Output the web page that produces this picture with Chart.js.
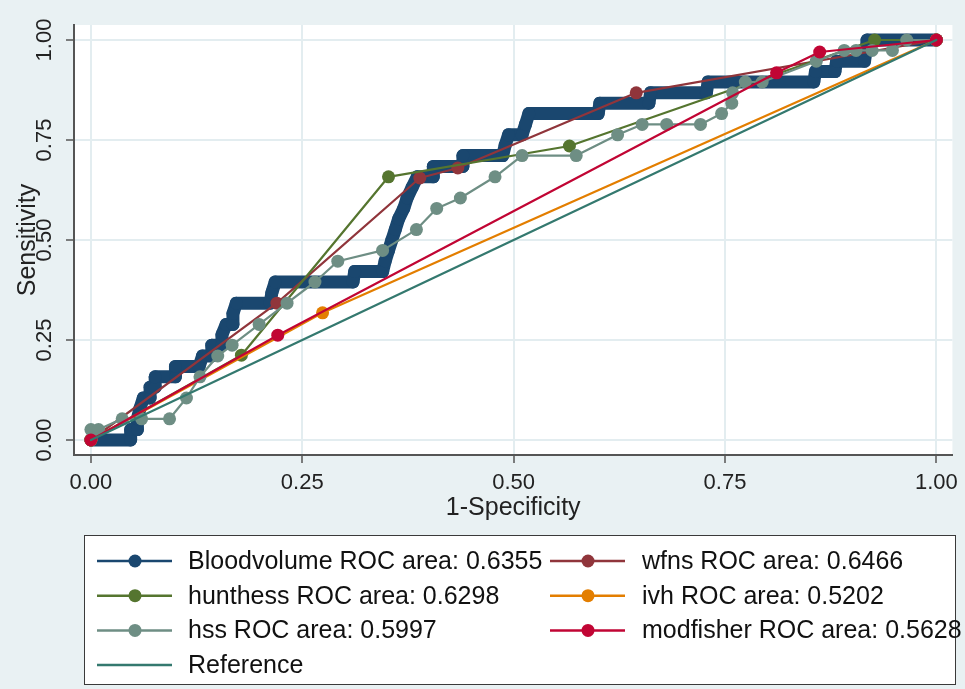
<!DOCTYPE html>
<html>
<head>
<meta charset="utf-8">
<script src="https://cdn.jsdelivr.net/npm/chart.js@4.4.1/dist/chart.umd.min.js"></script>
<style>
  html, body { margin: 0; padding: 0; background: #e9f1f3; }
  canvas { display: block; }
</style>
</head>
<body>
<canvas id="rocChart" width="965" height="689"></canvas>
<script>
// tick positions on both axes
const tickValues = [0, 0.25, 0.5, 0.75, 1];

const seriesNames = [
  "Bloodvolume ROC area: 0.6355",
  "wfns ROC area: 0.6466",
  "hunthess ROC area: 0.6298",
  "ivh ROC area: 0.5202",
  "hss ROC area: 0.5997",
  "modfisher ROC area: 0.5628",
  "Reference"
];
const seriesColors = ["#1a476f", "#90353b", "#55752f", "#e37e00", "#6e8e84", "#c10534", "#34796f"];

// 1-specificity / sensitivity pairs
const bloodX = [0, 0.047, 0.047, 0.055, 0.055, 0.058, 0.062, 0.07, 0.07, 0.076, 0.076, 0.1, 0.1, 0.128, 0.132, 0.143, 0.143, 0.155, 0.155, 0.16, 0.168, 0.168, 0.172, 0.212, 0.214, 0.218, 0.31, 0.312, 0.345, 0.348, 0.352, 0.356, 0.36, 0.364, 0.37, 0.374, 0.38, 0.386, 0.405, 0.405, 0.44, 0.44, 0.487, 0.49, 0.494, 0.51, 0.514, 0.518, 0.6, 0.602, 0.66, 0.662, 0.728, 0.73, 0.855, 0.857, 0.88, 0.882, 0.915, 0.917, 0.918, 1];
const bloodY = [0, 0, 0.026, 0.026, 0.053, 0.079, 0.105, 0.105, 0.132, 0.132, 0.158, 0.158, 0.184, 0.184, 0.21, 0.21, 0.237, 0.237, 0.263, 0.289, 0.289, 0.316, 0.342, 0.342, 0.368, 0.395, 0.395, 0.421, 0.421, 0.447, 0.474, 0.5, 0.526, 0.553, 0.579, 0.605, 0.632, 0.658, 0.658, 0.684, 0.684, 0.711, 0.711, 0.737, 0.763, 0.763, 0.789, 0.816, 0.816, 0.842, 0.842, 0.868, 0.868, 0.895, 0.895, 0.921, 0.921, 0.947, 0.947, 0.974, 1, 1];

const wfnsX = [0, 0.22, 0.389, 0.434, 0.645, 1];
const wfnsY = [0, 0.342, 0.655, 0.68, 0.868, 1];

const huntX = [0, 0.178, 0.352, 0.566, 0.927, 1];
const huntY = [0, 0.212, 0.658, 0.735, 1, 1];

const ivhX = [0, 0.274, 1];
const ivhY = [0, 0.318, 1];

const hssX = [0, 0, 0.009, 0.037, 0.06, 0.093, 0.113, 0.129, 0.15, 0.167, 0.199, 0.232, 0.265, 0.292, 0.345, 0.385, 0.409, 0.437, 0.478, 0.51, 0.574, 0.623, 0.652, 0.681, 0.721, 0.746, 0.758, 0.759, 0.774, 0.794, 0.858, 0.891, 0.905, 0.924, 0.948, 0.965, 1];
const hssY = [0, 0.026, 0.026, 0.053, 0.053, 0.053, 0.105, 0.158, 0.21, 0.237, 0.289, 0.342, 0.395, 0.447, 0.474, 0.526, 0.579, 0.605, 0.658, 0.711, 0.711, 0.763, 0.789, 0.789, 0.789, 0.816, 0.842, 0.868, 0.895, 0.895, 0.947, 0.974, 0.974, 0.974, 0.974, 1, 1];

const modX = [0, 0.221, 0.811, 0.862, 1];
const modY = [0, 0.262, 0.918, 0.97, 1];

const refX = [0, 1];
const refY = [0, 1];

const pairs = (xs, ys) => xs.map((x, i) => ({ x: x, y: ys[i] }));
const allX = [bloodX, wfnsX, huntX, ivhX, hssX, modX, refX];
const allY = [bloodY, wfnsY, huntY, ivhY, hssY, modY, refY];

const datasets = seriesNames.map((name, i) => ({
  label: name,
  data: pairs(allX[i], allY[i]),
  borderColor: seriesColors[i],
  backgroundColor: seriesColors[i],
  pointBackgroundColor: seriesColors[i],
  pointBorderWidth: 0,
  pointRadius: i === 6 ? 0 : 6.5,
  borderWidth: i === 0 ? 13 : 2.2,
  borderJoinStyle: 'round',
  borderCapStyle: 'round',
  tension: 0,
  order: 7 - i   // first series at the bottom, like Stata
}));

const FONT = '"Liberation Sans", Arial, sans-serif';

const backdrop = {
  id: 'backdrop',
  beforeDraw(chart) {
    const { ctx, chartArea: a } = chart;
    ctx.save();
    ctx.fillStyle = '#e9f1f3';
    ctx.fillRect(0, 0, chart.width, chart.height);
    ctx.fillStyle = '#ffffff';
    ctx.fillRect(a.left, a.top, a.right - a.left, a.bottom - a.top);
    ctx.restore();
  }
};

// Stata-style legend: two columns, line with marker
const legendBox = {
  id: 'legendBox',
  afterDraw(chart) {
    const ctx = chart.ctx;
    ctx.save();
    ctx.fillStyle = '#ffffff';
    ctx.fillRect(84, 535, 871, 149);
    ctx.strokeStyle = '#3a3a3a';
    ctx.lineWidth = 1;
    ctx.strokeRect(84.5, 535.5, 871, 149);
    ctx.font = '25px ' + FONT;
    ctx.textBaseline = 'middle';
    seriesNames.forEach((name, i) => {
      const col = i % 2, row = Math.floor(i / 2);
      const y = 561 + row * 34.7;
      const x0 = col === 0 ? 97 : 550;
      ctx.strokeStyle = seriesColors[i];
      ctx.lineWidth = 2.5;
      ctx.beginPath();
      ctx.moveTo(x0, y);
      ctx.lineTo(x0 + 75, y);
      ctx.stroke();
      if (i < 6) {
        ctx.fillStyle = seriesColors[i];
        ctx.beginPath();
        ctx.arc(x0 + 38, y, 6.5, 0, Math.PI * 2);
        ctx.fill();
      }
      ctx.fillStyle = '#111';
      ctx.fillText(name, col === 0 ? 188 : 642, y + 1);
    });
    ctx.restore();
  }
};

const setTicks = s => { s.ticks = tickValues.map(v => ({ value: v })); };

new Chart(document.getElementById('rocChart'), {
  type: 'line',
  data: { datasets: datasets },
  plugins: [backdrop, legendBox],
  options: {
    responsive: false,
    animation: false,
    layout: { padding: { top: 25, right: 12, bottom: 166, left: 0 } },
    plugins: { legend: { display: false }, tooltip: { enabled: false } },
    scales: {
      x: {
        type: 'linear',
        min: -0.02,
        max: 1.019,
        afterBuildTicks: setTicks,
        afterFit: s => { s.height = 68; },
        ticks: {
          callback: v => v.toFixed(2),
          font: { family: FONT, size: 22 },
          color: '#222',
          padding: 7,
          maxRotation: 0,
          autoSkip: false
        },
        grid: { color: '#e3edf0', lineWidth: 2, tickColor: '#555', tickLength: 8, tickWidth: 1.5 },
        border: { color: '#555', width: 2 },
        title: {
          display: true,
          text: '1-Specificity',
          font: { family: FONT, size: 25 },
          color: '#222',
          padding: { top: 0, bottom: 0 }
        }
      },
      y: {
        type: 'linear',
        min: -0.0375,
        max: 1.0375,
        afterBuildTicks: setTicks,
        afterFit: s => { s.width = 74; },
        ticks: {
          callback: v => v.toFixed(2),
          font: { family: FONT, size: 22 },
          color: '#222',
          padding: 0,
          minRotation: 90,
          maxRotation: 90,
          crossAlign: 'center',
          autoSkip: false
        },
        grid: { color: '#e3edf0', lineWidth: 2, tickColor: '#555', tickLength: 8, tickWidth: 1.5 },
        border: { color: '#555', width: 2 },
        title: {
          display: true,
          text: 'Sensitivity',
          font: { family: FONT, size: 25 },
          color: '#222',
          padding: { top: 13, bottom: 0 }
        }
      }
    }
  }
});
</script>
</body>
</html>
